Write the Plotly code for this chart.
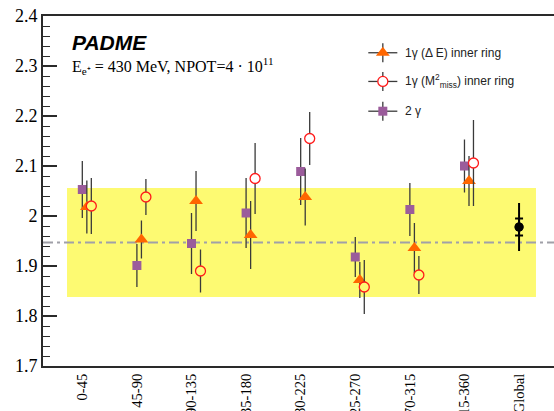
import plotly.graph_objects as go

# ---------------- data ----------------
categories = ["0-45", "45-90", "90-135", "135-180", "180-225", "225-270", "270-315", "315-360"]
global_label = "Global"

tri_val = [2.018, 1.953, 2.030, 1.962, 2.038, 1.872, 1.936, 2.070]
tri_err = [0.053, 0.038, 0.060, 0.068, 0.057, 0.036, 0.050, 0.050]

circ_val = [2.020, 2.038, 1.890, 2.075, 2.155, 1.858, 1.882, 2.106]
circ_err = [0.056, 0.036, 0.043, 0.071, 0.053, 0.054, 0.038, 0.086]

sq_val = [2.053, 1.901, 1.945, 2.006, 2.089, 1.918, 2.013, 2.100]
sq_err = [0.057, 0.043, 0.061, 0.070, 0.067, 0.040, 0.053, 0.053]

global_val = [1.978]
global_err_tot = [0.048]
global_err_stat = [0.017]

band_center = 1.947
band_half = 0.109
band_x = [-0.28, 8.31]

y_range = [1.7, 2.4]
x_range = [-0.72, 8.64]

# ---------------- styles ----------------
band_color = "#fdfa72"
tri_color = "#ff6600"
circ_color = "#ff1a1a"
sq_color = "#9b5c9b"
bar_color = "#3a3a3a"
axis_color = "#2a2a2a"

idx = list(range(len(categories)))
off_sq, off_tri, off_circ = 0.0, 0.083, 0.165
x_sq = [i + off_sq for i in idx]
x_tri = [i + off_tri for i in idx]
x_circ = [i + off_circ for i in idx]
x_glob = [len(categories)]

lo, hi = band_center - band_half, band_center + band_half
circ_fill = [band_color if lo <= v <= hi else "white" for v in circ_val]

fig = go.Figure()

eb = dict(type="data", thickness=1.3, color=bar_color, width=0)

fig.add_trace(go.Scatter(
    x=x_sq, y=sq_val, mode="markers",
    error_y=dict(array=sq_err, **eb),
    marker=dict(symbol="square", size=9, color=sq_color, line=dict(width=0)),
    showlegend=False))
fig.add_trace(go.Scatter(
    x=x_tri, y=tri_val, mode="markers",
    error_y=dict(array=tri_err, **eb),
    marker=dict(symbol="triangle-up", size=12, color=tri_color, line=dict(width=0)),
    showlegend=False))
fig.add_trace(go.Scatter(
    x=x_circ, y=circ_val, mode="markers",
    error_y=dict(array=circ_err, **eb),
    marker=dict(symbol="circle", size=10, color=circ_fill, line=dict(width=1.3, color=circ_color)),
    showlegend=False))
fig.add_trace(go.Scatter(
    x=x_glob, y=global_val, mode="markers",
    error_y=dict(type="data", array=global_err_tot, thickness=2, color="black", width=0),
    marker=dict(symbol="circle", size=9, color="black"),
    showlegend=False))
fig.add_trace(go.Scatter(
    x=x_glob, y=global_val, mode="markers",
    error_y=dict(type="data", array=global_err_stat, thickness=2, color="black", width=4),
    marker=dict(symbol="circle", size=9, color="black"),
    showlegend=False))

# ---------------- legend (drawn on a hidden overlay axis) ----------------
leg_labels = ["1γ (Δ E) inner ring",
              "1γ (M<sup>2</sup><sub>miss</sub>) inner ring",
              "2 γ"]
leg_y = [0.895, 0.813, 0.728]
leg_x = 0.665
leg_styles = [
    dict(symbol="triangle-up", size=12, color=tri_color, line=dict(width=0)),
    dict(symbol="circle", size=10, color="white", line=dict(width=1.3, color=circ_color)),
    dict(symbol="square", size=9, color=sq_color, line=dict(width=0)),
]
for yy, st in zip(leg_y, leg_styles):
    fig.add_trace(go.Scatter(
        x=[leg_x], y=[yy], xaxis="x2", yaxis="y3", mode="markers",
        error_x=dict(type="constant", value=0.0284, thickness=1.3, color=bar_color, width=0),
        error_y=dict(type="constant", value=0.027, thickness=1.3, color=bar_color, width=0),
        marker=st, showlegend=False, hoverinfo="skip"))
for yy, lab in zip(leg_y, leg_labels):
    fig.add_annotation(x=leg_x + 0.04, y=yy, xref="x2", yref="y3", text=lab,
                       showarrow=False, xanchor="left", yanchor="middle",
                       font=dict(family="Liberation Sans, Arial", size=12, color="#222"))

# ---------------- band and reference line ----------------
fig.add_shape(type="rect", x0=band_x[0], x1=band_x[1], y0=lo, y1=hi,
              xref="x", yref="y", fillcolor=band_color, line=dict(width=0), layer="below")
fig.add_shape(type="line", x0=x_range[0], x1=x_range[1], y0=band_center, y1=band_center,
              xref="x", yref="y", line=dict(color="#a0a0a8", width=2, dash="10px,4px,3px,4px"),
              layer="below")

# ---------------- texts ----------------
fig.add_annotation(x=0.0528, y=0.923, xref="paper", yref="paper", text="<b><i>PADME</i></b>",
                   showarrow=False, xanchor="left", yanchor="middle",
                   font=dict(family="Liberation Sans, Arial", size=21, color="black"))
fig.add_annotation(x=0.0528, y=0.856, xref="paper", yref="paper",
                   text="E<sub>e⁺</sub> = 430 MeV, NPOT=4 · 10<sup>11</sup>",
                   showarrow=False, xanchor="left", yanchor="middle",
                   font=dict(family="Liberation Serif, Times New Roman", size=16, color="black"))

tick_vals = idx + x_glob
tick_text = categories + [global_label]

fig.update_layout(
    width=554, height=411,
    margin=dict(l=43, r=0, t=16, b=45),
    paper_bgcolor="white", plot_bgcolor="white",
    xaxis=dict(range=x_range, tickmode="array", tickvals=tick_vals, ticktext=tick_text,
               tickangle=-90, ticks="", showgrid=False, zeroline=False, automargin=False,
               showline=True, linecolor=axis_color, linewidth=2, mirror=True,
               tickfont=dict(family="Liberation Serif, Times New Roman", size=14.5, color="black")),
    yaxis=dict(range=y_range, tickmode="linear", tick0=1.7, dtick=0.1, tickformat="~g",
               ticks="inside", ticklen=14, tickwidth=1.5, tickcolor=axis_color, automargin=False,
               minor=dict(dtick=0.02, ticks="inside", ticklen=7, tickwidth=1.2, tickcolor=axis_color),
               showgrid=False, zeroline=False, showline=True, linecolor=axis_color, linewidth=2,
               tickfont=dict(family="Liberation Serif, Times New Roman", size=18, color="black")),
    yaxis2=dict(range=y_range, overlaying="y", side="right", tickmode="linear", tick0=1.7, dtick=0.1,
                ticks="inside", ticklen=14, tickwidth=1.5, tickcolor=axis_color, automargin=False,
                minor=dict(dtick=0.02, ticks="inside", ticklen=7, tickwidth=1.2, tickcolor=axis_color),
                showticklabels=False, showgrid=False, zeroline=False, showline=False),
    xaxis2=dict(range=[0, 1], overlaying="x", visible=False),
    yaxis3=dict(range=[0, 1], overlaying="y", visible=False),
)

fig.write_html("out.html")
